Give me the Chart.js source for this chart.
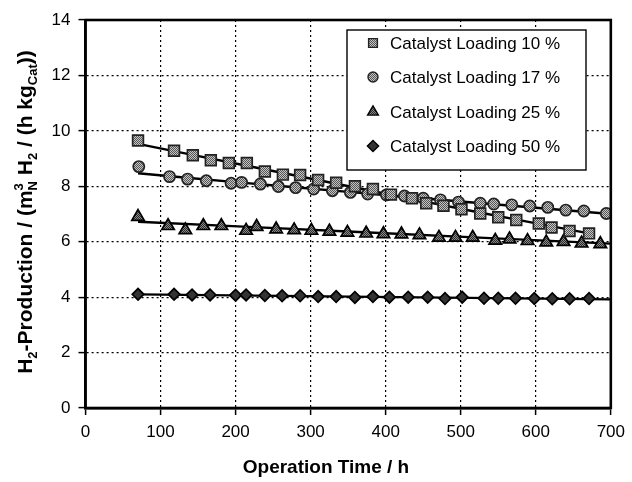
<!DOCTYPE html>
<html>
<head>
<meta charset="utf-8">
<script src="https://cdn.jsdelivr.net/npm/chart.js@4.4.1/dist/chart.umd.min.js"></script>
<style>
html,body{margin:0;padding:0;background:#fff;}
#wrap{width:632px;height:482px;position:relative;}
</style>
</head>
<body>
<div id="wrap"><canvas id="c" width="632" height="482"></canvas></div>
<script>
// ---- data ----
const xTicks = [0,100,200,300,400,500,600,700];
const yTicks = [0,2,4,6,8,10,12,14];
const seriesLabels = ['Catalyst Loading 10 %','Catalyst Loading 17 %','Catalyst Loading 25 %','Catalyst Loading 50 %'];

const sqX = [70,118,143,167,191,215,239,263,286,310,334,359,383,407,435,454,477,501,526,550,574,604,621,645,671];
const sqY = [9.65,9.28,9.12,8.94,8.84,8.84,8.53,8.42,8.41,8.23,8.13,8.00,7.90,7.70,7.57,7.39,7.30,7.17,7.02,6.88,6.78,6.66,6.51,6.39,6.30];

const ciX = [71,112,136,161,194,208,233,257,280,304,329,353,376,401,425,450,473,497,526,544,568,592,616,640,664,694];
const ciY = [8.71,8.35,8.26,8.20,8.11,8.14,8.08,7.99,7.95,7.90,7.84,7.78,7.72,7.69,7.65,7.57,7.51,7.43,7.39,7.36,7.33,7.29,7.24,7.14,7.11,7.02];

const trX = [70,110,133,157,181,214,228,254,278,301,325,349,374,397,421,445,471,493,516,546,565,589,614,637,661,686];
const trY = [6.90,6.57,6.42,6.57,6.57,6.40,6.54,6.45,6.42,6.40,6.37,6.33,6.30,6.28,6.27,6.24,6.15,6.15,6.15,6.04,6.09,6.03,5.98,6.00,5.94,5.92];

const diX = [70,118,142,166,200,214,239,262,286,310,334,359,383,405,430,456,479,502,531,550,573,598,622,645,671];
const diY = [4.10,4.10,4.08,4.08,4.07,4.08,4.06,4.05,4.05,4.02,4.02,3.99,4.02,4.00,4.00,4.00,3.95,4.00,3.96,3.96,3.96,3.95,3.94,3.94,3.95];

// trend lines
const sqFitX = [70,215,364,520,671];
const sqFitY = [9.53,8.74,7.93,7.08,6.30];
const ciFitX = [70,200,350,500,700];
const ciFitY = [8.47,8.15,7.80,7.45,7.00];
const trFitX = [70,364,700];
const trFitY = [6.72,6.35,5.93];
const diFitX = [70,700];
const diFitY = [4.10,3.92];

// ---- helpers ----
function pts(xs, ys){ return xs.map((x,i)=>({x:x, y:ys[i]})); }
function makePattern(a, b){
  const pc = document.createElement('canvas'); pc.width = 2; pc.height = 2;
  const p = pc.getContext('2d');
  p.fillStyle = a; p.fillRect(0,0,2,2);
  p.fillStyle = b; p.fillRect(0,0,1,1); p.fillRect(1,1,1,1);
  return document.getElementById('c').getContext('2d').createPattern(pc,'repeat');
}
const patLight = makePattern('#c4c4c4','#555555');
const patDark = makePattern('#8a8a8a','#2a2a2a');

const FONT = "'Liberation Sans', Arial, sans-serif";

const markerDefs = [
  {style:'rect', radius:7.6, fill:patLight, border:'#222', bw:1.7, lr:6.2},
  {style:'circle', radius:5.6, fill:patLight, border:'#222', bw:1.7, lr:5.0},
  {style:'triangle', radius:7.2, fill:patDark, border:'#000', bw:1.7, lr:6.2},
  {style:'rectRot', radius:5.8, fill:'#333', border:'#000', bw:1.7, lr:5.6}
];
const markerData = [pts(sqX,sqY), pts(ciX,ciY), pts(trX,trY), pts(diX,diY)];
const fitData = [pts(sqFitX,sqFitY), pts(ciFitX,ciFitY), pts(trFitX,trFitY), pts(diFitX,diFitY)];

const datasets = [];
fitData.forEach((d,i)=>{
  datasets.push({label:'fit'+i, data:d, showLine:true, borderColor:'#000', borderWidth:2.4,
    pointRadius:0, pointHoverRadius:0, fill:false, tension:0.3, order:2, isFit:true});
});
markerData.forEach((d,i)=>{
  const m = markerDefs[i];
  datasets.push({label:seriesLabels[i], data:d, showLine:false, pointStyle:m.style, pointRadius:m.radius,
    pointHoverRadius:m.radius, pointBackgroundColor:m.fill, pointBorderColor:m.border, pointBorderWidth:m.bw,
    order:1, markerIndex:i});
});

const framePlugin = {
  id:'frame',
  afterDatasetsDraw(chart){
    const {ctx, chartArea:a} = chart;
    ctx.save();
    ctx.strokeStyle = '#000'; ctx.lineWidth = 2.6;
    ctx.strokeRect(a.left, a.top, a.right-a.left, a.bottom-a.top);
    ctx.restore();
  }
};

const legendPlugin = {
  id:'boxLegend',
  afterDraw(chart){
    const ctx = chart.ctx;
    const L = 347, T = 30, R = 586, B = 170;
    ctx.save();
    ctx.fillStyle = '#fff'; ctx.fillRect(L,T,R-L,B-T);
    ctx.strokeStyle = '#000'; ctx.lineWidth = 1.4; ctx.strokeRect(L,T,R-L,B-T);
    const rows = [43, 77, 112, 146];
    chart.data.datasets.filter(d=>d.markerIndex!==undefined).forEach(ds=>{
      const i = ds.markerIndex, m = markerDefs[i], y = rows[i];
      ctx.fillStyle = m.fill; ctx.strokeStyle = m.border; ctx.lineWidth = 1.4;
      Chart.helpers.drawPoint(ctx, {pointStyle:m.style, radius:m.lr, borderWidth:1.4, rotation:0}, 373, y);
      ctx.fillStyle = '#000'; ctx.font = '17px ' + FONT; ctx.textBaseline = 'middle'; ctx.textAlign = 'left';
      ctx.fillText(ds.label, 390, y+1);
    });
    ctx.restore();
  }
};

const titlePlugin = {
  id:'titles',
  afterDraw(chart){
    const ctx = chart.ctx;
    ctx.save();
    ctx.fillStyle = '#000';
    // x title
    ctx.font = 'bold 19px ' + FONT; ctx.textAlign = 'center'; ctx.textBaseline = 'alphabetic';
    ctx.fillText('Operation Time / h', 326, 473);
    // y title with sub/superscripts
    const big = 'bold 21px ' + FONT, small = 'bold 13px ' + FONT;
    const segs = [
      {t:'H', f:big, dy:0}, {t:'2', f:small, dy:5}, {t:'-Production / (m', f:big, dy:0},
      {t:'3', f:small, dy:-9, stackWith:'N'}, {t:' H', f:big, dy:0}, {t:'2', f:small, dy:5},
      {t:' / (h kg', f:big, dy:0}, {t:'Cat', f:small, dy:5}, {t:'))', f:big, dy:0}
    ];
    let total = 0;
    segs.forEach(s=>{ ctx.font = s.f; let w = ctx.measureText(s.t).width;
      if (s.stackWith){ w = Math.max(w, ctx.measureText(s.stackWith).width); } s.w = w; total += w; });
    ctx.translate(32, 212);
    ctx.rotate(-Math.PI/2);
    ctx.textAlign = 'left'; ctx.textBaseline = 'alphabetic';
    let x = -total/2;
    segs.forEach(s=>{
      ctx.font = s.f;
      ctx.fillText(s.t, x, s.dy);
      if (s.stackWith) ctx.fillText(s.stackWith, x, 5);
      x += s.w;
    });
    ctx.restore();
  }
};

new Chart(document.getElementById('c'), {
  type:'scatter',
  data:{datasets:datasets},
  options:{
    responsive:false, animation:false, devicePixelRatio:1,
    layout:{padding:{top:20, right:18.5, bottom:0, left:0}},
    plugins:{legend:{display:false}, tooltip:{enabled:false}},
    scales:{
      x:{type:'linear', min:0, max:700,
        afterBuildTicks(s){ s.ticks = xTicks.map(v=>({value:v})); },
        afterFit(s){ s.height = 74; },
        grid:{color:(c)=> (c.tick && (c.tick.value===0||c.tick.value===700)) ? 'rgba(0,0,0,0)' : '#000',
          lineWidth:1.2, tickColor:'#000', tickLength:7, tickWidth:1.5},
        border:{display:true, color:'#000', width:2.6, dash:[2,3]},
        ticks:{color:'#000', font:{family:FONT, size:17}, padding:7, maxRotation:0}
      },
      y:{type:'linear', min:0, max:14,
        afterBuildTicks(s){ s.ticks = yTicks.map(v=>({value:v})); },
        afterFit(s){ s.width = 85.5; },
        grid:{color:(c)=> (c.tick && (c.tick.value===0||c.tick.value===14)) ? 'rgba(0,0,0,0)' : '#000',
          lineWidth:1.2, tickColor:'#000', tickLength:7, tickWidth:1.5},
        border:{display:true, color:'#000', width:2.6, dash:[2,3]},
        ticks:{color:'#000', font:{family:FONT, size:17}, padding:8}
      }
    }
  },
  plugins:[framePlugin, legendPlugin, titlePlugin]
});
</script>
</body>
</html>
